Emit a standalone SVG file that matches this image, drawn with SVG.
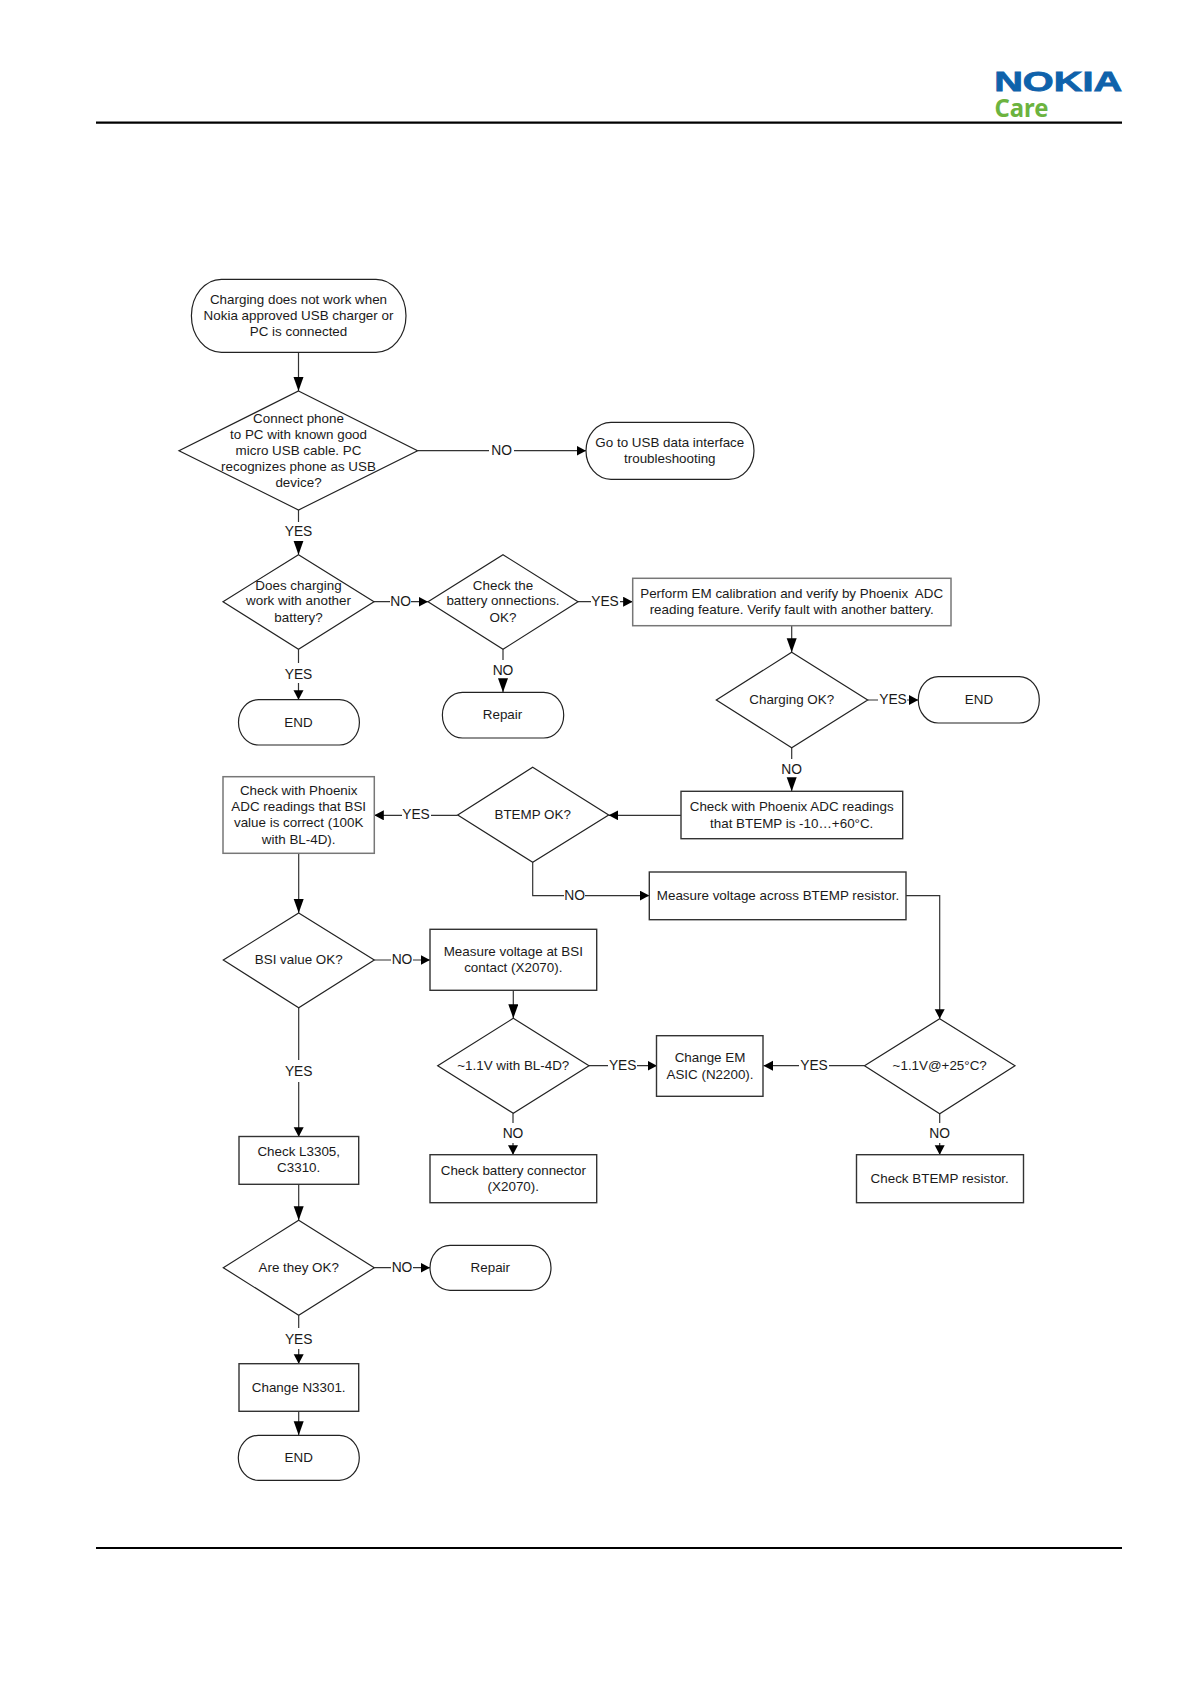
<svg xmlns="http://www.w3.org/2000/svg" width="1191" height="1684" viewBox="0 0 1191 1684">
<style>
text{font-family:"Liberation Sans",Arial,sans-serif;font-size:13.4px;fill:#1a1a1a;text-anchor:middle;white-space:pre}
#connectors text{font-size:13.8px}
.s{fill:#fff;stroke:#222;stroke-width:1.2}
.g{fill:#fff;stroke:#777;stroke-width:1.5}
.r{fill:#fff;stroke:#333;stroke-width:1.4}
.c{fill:none;stroke:#333;stroke-width:1.2}
.a{marker-end:url(#a)}
.b{marker-end:url(#b)}
.l{fill:none;stroke:#000;stroke-width:2.2}
</style>
<defs>
<marker id="a" markerUnits="userSpaceOnUse" markerWidth="10" markerHeight="11" refX="9.5" refY="5" orient="auto"><path d="M0 0L9.5 5L0 10Z" fill="#000"/></marker>
<marker id="b" markerUnits="userSpaceOnUse" markerWidth="14" markerHeight="11" refX="14" refY="5" orient="auto"><path d="M0 0L14 5L0 10Z" fill="#000"/></marker>
</defs>
<rect width="1191" height="1684" fill="#fff"/>
<g id="header">
<path class="l" d="M96 122.7H1122"/>
<text x="994.2" y="90.7" textLength="128" lengthAdjust="spacingAndGlyphs" style="font-size:27.5px;font-weight:bold;fill:#0f62ab;text-anchor:start;stroke:#0f62ab;stroke-width:.8">NOKIA</text>
<text x="994.5" y="117.3" textLength="54" lengthAdjust="spacingAndGlyphs" style="font-family:'Noto Sans',sans-serif;font-size:25px;font-weight:bold;fill:#6cb33f;text-anchor:start">Care</text>
</g>
<g id="footer"><path class="l" d="M96 1548H1122"/></g>
<g id="connectors">
<path class="c b" d="M298.5 352.3V391"/>
<path class="c a" d="M417.6 450.7H489M514 450.7H586"/>
<text x="501.7" y="455">NO</text>
<path class="c b" d="M298.5 510V522M298.5 541V554.7"/>
<text x="298.5" y="536.3">YES</text>
<path class="c a" d="M374 601.7H390M411 601.7H428"/>
<text x="400.7" y="606">NO</text>
<path class="c a" d="M578 601.7H591M620 601.7H632.6"/>
<text x="605" y="606">YES</text>
<path class="c a" d="M298.5 649.3V663M298.5 683V699.7"/>
<text x="298.5" y="678.7">YES</text>
<path class="c b" d="M503 649.3V660M503 680V692.3"/>
<text x="503" y="675">NO</text>
<path class="c b" d="M791.7 625.7V652.3"/>
<path class="c a" d="M867.7 700H878M907 700H918.3"/>
<text x="893" y="704.3">YES</text>
<path class="c b" d="M791.7 747.7V759M791.7 779V791.3"/>
<text x="791.7" y="774">NO</text>
<path class="c a" d="M681 815.3H608.7"/>
<path class="c a" d="M457.7 815.3H431M402 815.3H374.3"/>
<text x="416" y="819">YES</text>
<path class="c a" d="M532.7 862.3V895.6H564M585 895.6H649.3"/>
<text x="574.7" y="900.3">NO</text>
<path class="c b" d="M298.7 853.3V913"/>
<path class="c a" d="M374.3 960H391M413 960H430"/>
<text x="402" y="964">NO</text>
<path class="c a" d="M298.7 1007.7V1060M298.7 1082V1136.7"/>
<text x="298.7" y="1076.3">YES</text>
<path class="c b" d="M513.3 990.3V1018.3"/>
<path class="c a" d="M589 1065.7H608M637 1065.7H657"/>
<text x="622.7" y="1070">YES</text>
<path class="c a" d="M864.5 1065.7H829M799 1065.7H763.5"/>
<text x="814" y="1070">YES</text>
<path class="c a" d="M906 895.7H939.7V1018.7"/>
<path class="c a" d="M513 1113.3V1123M513 1143V1154.7"/>
<text x="513" y="1138">NO</text>
<path class="c a" d="M939.7 1113.7V1123M939.7 1143V1154.7"/>
<text x="939.7" y="1138">NO</text>
<path class="c b" d="M298.7 1184.3V1220.3"/>
<path class="c a" d="M374.3 1267.7H391M413 1267.7H430"/>
<text x="402" y="1272.4">NO</text>
<path class="c a" d="M298.7 1315.3V1328M298.7 1349V1363.7"/>
<text x="298.7" y="1343.7">YES</text>
<path class="c b" d="M298.7 1411.3V1435.3"/>
</g>
<g id="n-start"><rect class="s" x="191.4" y="279.3" width="214.6" height="73" rx="30" ry="36.5"/><text x="298.5" y="304">Charging does not work when</text><text x="298.5" y="320">Nokia approved USB charger or</text><text x="298.5" y="336">PC is connected</text></g>
<g id="n-d1"><path class="s" d="M298.5 391L417.6 450.7L298.5 510L179 450.7Z"/><text x="298.5" y="423">Connect phone</text><text x="298.5" y="439">to PC with known good</text><text x="298.5" y="455">micro USB cable. PC</text><text x="298.5" y="471">recognizes phone as USB</text><text x="298.5" y="487">device?</text></g>
<g id="n-usb"><rect class="s" x="586" y="422.3" width="168" height="57" rx="25" ry="28.5"/><text x="669.8" y="446.7">Go to USB data interface</text><text x="669.8" y="463">troubleshooting</text></g>
<g id="n-d2"><path class="s" d="M298.5 554.7L374 601.7L298.5 649.3L223 601.7Z"/><text x="298.5" y="589.7">Does charging</text><text x="298.5" y="605.4">work with another</text><text x="298.5" y="621.7">battery?</text></g>
<g id="n-d3"><path class="s" d="M503 554.7L578 601.7L503 649.3L428 601.7Z"/><text x="503" y="589.7">Check the</text><text x="503" y="605.4">battery onnections.</text><text x="503" y="621.7">OK?</text></g>
<g id="n-perform"><rect class="g" x="632.7" y="578.3" width="318.3" height="47.4"/><text x="791.7" y="597.7">Perform EM calibration and verify by Phoenix  ADC</text><text x="791.7" y="614">reading feature. Verify fault with another battery.</text></g>
<g id="n-end1"><rect class="s" x="238.5" y="699.7" width="120.9" height="45.3" rx="20" ry="22.6"/><text x="298.5" y="727">END</text></g>
<g id="n-repair1"><rect class="s" x="442.4" y="692.3" width="121.3" height="45.7" rx="20" ry="22.8"/><text x="502.5" y="719">Repair</text></g>
<g id="n-charging"><path class="s" d="M791.7 652.3L867.7 700L791.7 747.7L716.3 700Z"/><text x="791.7" y="704">Charging OK?</text></g>
<g id="n-end2"><rect class="s" x="918.3" y="676.7" width="121" height="46.3" rx="20" ry="23.1"/><text x="979" y="704">END</text></g>
<g id="n-check-btemp"><rect class="r" x="681" y="791.3" width="221.7" height="47.4"/><text x="791.7" y="811">Check with Phoenix ADC readings</text><text x="791.7" y="827.7">that BTEMP is -10…+60°C.</text></g>
<g id="n-btemp"><path class="s" d="M532.7 767.3L608.7 815L532.7 862.3L457.7 815Z"/><text x="532.7" y="819">BTEMP OK?</text></g>
<g id="n-check-bsi"><rect class="g" x="223" y="776.7" width="151.3" height="76.6"/><text x="298.7" y="795">Check with Phoenix</text><text x="298.7" y="811">ADC readings that BSI</text><text x="298.7" y="827.4">value is correct (100K</text><text x="298.7" y="843.7">with BL-4D).</text></g>
<g id="n-measure-btemp"><rect class="r" x="649.3" y="872" width="256.7" height="47.7"/><text x="778" y="899.7">Measure voltage across BTEMP resistor.</text></g>
<g id="n-bsi"><path class="s" d="M298.7 913L374.3 960L298.7 1007.7L223.3 960Z"/><text x="298.7" y="964">BSI value OK?</text></g>
<g id="n-measure-bsi"><rect class="r" x="430" y="929.3" width="166.7" height="61"/><text x="513.3" y="956">Measure voltage at BSI</text><text x="513.3" y="972.4">contact (X2070).</text></g>
<g id="n-v-bl"><path class="s" d="M513.3 1018.3L589 1065.7L513.3 1113.3L437.7 1065.7Z"/><text x="513.3" y="1070">~1.1V with BL-4D?</text></g>
<g id="n-asic"><rect class="r" x="656.5" y="1035.7" width="106.5" height="60.6"/><text x="710" y="1062">Change EM</text><text x="710" y="1078.7">ASIC (N2200).</text></g>
<g id="n-v-25"><path class="s" d="M939.7 1018.7L1015 1065.7L939.7 1113.7L864.5 1065.7Z"/><text x="939.7" y="1070">~1.1V@+25°C?</text></g>
<g id="n-connector"><rect class="r" x="430" y="1154.7" width="166.7" height="48"/><text x="513.3" y="1175">Check battery connector</text><text x="513.3" y="1190.7">(X2070).</text></g>
<g id="n-resistor"><rect class="r" x="856.5" y="1154.7" width="167" height="48"/><text x="939.7" y="1183">Check BTEMP resistor.</text></g>
<g id="n-l3305"><rect class="r" x="239" y="1136.5" width="119.7" height="47.8"/><text x="298.7" y="1156.4">Check L3305,</text><text x="298.7" y="1172.4">C3310.</text></g>
<g id="n-ok"><path class="s" d="M298.7 1220.3L374.3 1267.7L298.7 1315.3L223.3 1267.7Z"/><text x="298.7" y="1272.4">Are they OK?</text></g>
<g id="n-repair2"><rect class="s" x="430" y="1245.3" width="121" height="45" rx="20" ry="22.5"/><text x="490.3" y="1272.4">Repair</text></g>
<g id="n-n3301"><rect class="r" x="239" y="1363.7" width="119.7" height="47.6"/><text x="298.7" y="1392">Change N3301.</text></g>
<g id="n-end3"><rect class="s" x="238.3" y="1435.3" width="121" height="45" rx="20" ry="22.5"/><text x="298.7" y="1462">END</text></g>
</svg>
